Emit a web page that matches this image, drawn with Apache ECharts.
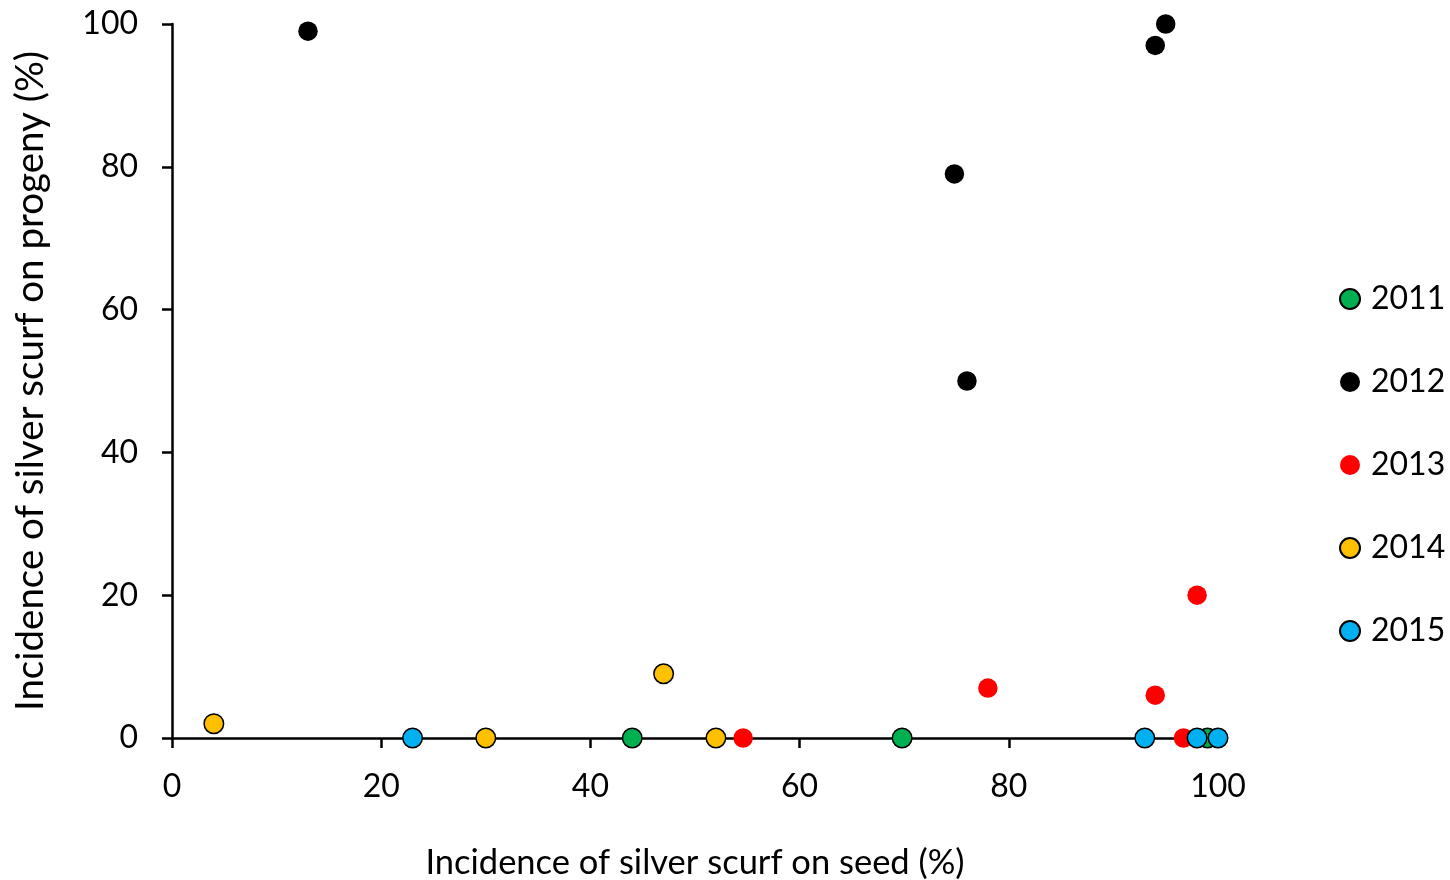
<!DOCTYPE html>
<html>
<head>
<meta charset="utf-8">
<script src="https://cdn.jsdelivr.net/npm/echarts@6/dist/echarts.min.js"></script>
<style>
  html, body { margin: 0; padding: 0; background: #fff; }
  #chart { width: 1450px; height: 880px; }
</style>
</head>
<body>
<div id="chart"></div>
<script>
// Seed vs. progeny incidence of silver scurf, one series per year
const years = ['2011', '2012', '2013', '2014', '2015'];
const colors = ['#00b050', '#000000', '#ff0000', '#ffc000', '#00b0f0'];
const bordered = [true, false, false, true, true];

const seed2011 = [44, 69.8, 99];
const progeny2011 = [0, 0, 0];
const seed2012 = [13, 74.8, 76, 94, 95];
const progeny2012 = [99, 79, 50, 97, 100];
const seed2013 = [54.6, 78, 94, 98, 96.7];
const progeny2013 = [0, 7, 6, 20, 0];
const seed2014 = [4, 30, 47, 52];
const progeny2014 = [2, 0, 9, 0];
const seed2015 = [23, 93, 98, 100];
const progeny2015 = [0, 0, 0, 0];

const axisTicks = [0, 20, 40, 60, 80, 100];

const seedSets = [seed2011, seed2012, seed2013, seed2014, seed2015];
const progenySets = [progeny2011, progeny2012, progeny2013, progeny2014, progeny2015];

const FONT = 'Lato';

const series = years.map((y, i) => ({
  name: y,
  type: 'scatter',
  symbol: 'circle',
  symbolSize: 19.5,
  data: seedSets[i].map((x, j) => [x, progenySets[i][j]]),
  itemStyle: {
    color: colors[i],
    borderColor: '#000',
    borderWidth: bordered[i] ? 1.5 : 0,
    opacity: 1
  },
  emphasis: { disabled: true }
}));

const chart = echarts.init(document.getElementById('chart'), null, { renderer: 'canvas' });
chart.setOption({
  animation: false,
  backgroundColor: '#ffffff',
  textStyle: { fontFamily: FONT },
  grid: { left: 172, right: 232, top: 24, bottom: 142, containLabel: false, outerBoundsMode: 'none' },
  legend: {
    orient: 'vertical',
    left: 1334,
    top: 278,
    itemWidth: 20,
    itemHeight: 20,
    itemGap: 51,
    icon: 'circle',
    textStyle: { fontSize: 32, color: '#000', fontFamily: FONT, padding: [0, 0, 0, 6] },
    data: years
  },
  xAxis: {
    type: 'value',
    min: axisTicks[0],
    max: axisTicks[axisTicks.length - 1],
    interval: 20,
    name: 'Incidence of silver scurf on seed (%)',
    nameLocation: 'middle',
    nameGap: 107,
    nameTextStyle: { fontSize: 34.5, color: '#000', fontFamily: FONT },
    axisLine: { show: true, lineStyle: { color: '#000', width: 2.5 } },
    axisTick: { show: true, inside: false, length: 10, lineStyle: { color: '#000', width: 2.5 } },
    axisLabel: { fontSize: 32, color: '#000', margin: 33, fontFamily: FONT },
    splitLine: { show: false }
  },
  yAxis: {
    type: 'value',
    min: axisTicks[0],
    max: axisTicks[axisTicks.length - 1],
    interval: 20,
    name: 'Incidence of silver scurf on progeny (%)',
    nameLocation: 'middle',
    nameGap: 122,
    nameRotate: 90,
    nameTextStyle: { fontSize: 38.5, color: '#000', fontFamily: FONT },
    axisLine: { show: true, lineStyle: { color: '#000', width: 2.5 } },
    axisTick: { show: true, inside: false, length: 10, lineStyle: { color: '#000', width: 2.5 } },
    axisLabel: { fontSize: 32, color: '#000', margin: 34, fontFamily: FONT },
    splitLine: { show: false }
  },
  series: series
});
</script>
</body>
</html>
